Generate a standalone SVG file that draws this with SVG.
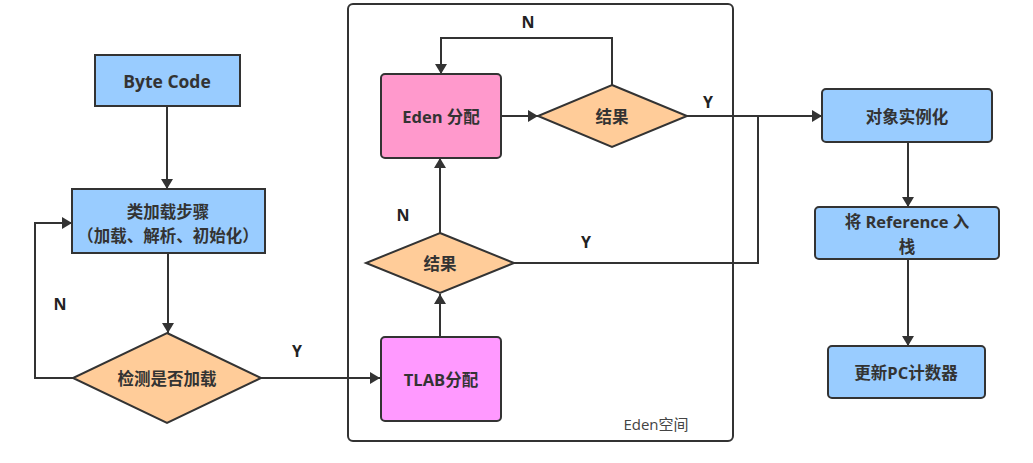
<svg xmlns="http://www.w3.org/2000/svg" width="1033" height="463" viewBox="0 0 1033 463">
<style>
.t{font-family:"Open Sans","Noto Sans CJK SC",sans-serif;font-weight:bold;font-size:16.5px;fill:#333;text-anchor:middle;dominant-baseline:central}
.lbl{font-family:"Open Sans","Noto Sans CJK SC",sans-serif;font-weight:bold;font-size:16px;fill:#222;text-anchor:middle;dominant-baseline:central}
.blue{fill:#99CCFF;stroke:#333;stroke-width:2}
.dia{fill:#FFCC99;stroke:#333;stroke-width:2}
.ln{fill:none;stroke:#333;stroke-width:2}
</style>
<defs>
<marker id="ar" markerWidth="10" markerHeight="12" refX="10" refY="6" orient="auto" markerUnits="userSpaceOnUse" viewBox="0 0 10 12">
<path d="M0,0 L10,6 L0,12 Z" fill="#333"/>
</marker>
</defs>
<rect width="1033" height="463" fill="#fff"/>
<g id="eden-space">
<rect x="348" y="4" width="385" height="437" rx="5" fill="none" stroke="#333" stroke-width="2"/>
<text x="656" y="424" font-family="Open Sans,Noto Sans CJK SC,sans-serif" font-size="15" fill="#444" text-anchor="middle" dominant-baseline="central">Eden空间</text>
</g>
<g id="connectors">
<path class="ln" d="M167,106 L167,189" marker-end="url(#ar)"/>
<path class="ln" d="M168,253 L168,333" marker-end="url(#ar)"/>
<path class="ln" d="M73,378 L35,378 L35,223 L72,223" marker-end="url(#ar)"/>
<path class="ln" d="M261,378 L380,378" marker-end="url(#ar)"/>
<path class="ln" d="M440,337 L440,294" marker-end="url(#ar)"/>
<path class="ln" d="M440,233 L440,158" marker-end="url(#ar)"/>
<path class="ln" d="M501,116 L538,116" marker-end="url(#ar)"/>
<path class="ln" d="M612,85 L612,38 L441,38 L441,74" marker-end="url(#ar)"/>
<path class="ln" d="M687,116 L822,116" marker-end="url(#ar)"/>
<path class="ln" d="M514,263 L758,263 L758,116"/>
<path class="ln" d="M908,142 L908,207" marker-end="url(#ar)"/>
<path class="ln" d="M908,259 L908,346" marker-end="url(#ar)"/>
<text class="lbl" x="60" y="304">N</text>
<text class="lbl" x="297" y="351">Y</text>
<text class="lbl" x="528" y="22">N</text>
<text class="lbl" x="708" y="102">Y</text>
<text class="lbl" x="403" y="215">N</text>
<text class="lbl" x="586" y="242">Y</text>
</g>
<g id="byte-code">
<rect class="blue" x="95" y="55" width="145" height="51"/>
<text class="t" x="167" y="81" style="font-size:17.5px">Byte Code</text>
</g>
<g id="class-load">
<rect class="blue" x="72" y="189" width="193" height="64"/>
<text class="t" x="168" y="211">类加载步骤</text>
<text class="t" x="168" y="235">（加载、解析、初始化）</text>
</g>
<g id="check-loaded">
<polygon class="dia" points="167,333 261,378 167,423 73,378"/>
<text class="t" x="167" y="378">检测是否加载</text>
</g>
<g id="tlab">
<rect x="381" y="337" width="120" height="84" rx="4" fill="#FF99FF" stroke="#333" stroke-width="2"/>
<text class="t" x="441" y="379">TLAB分配</text>
</g>
<g id="result-bottom">
<polygon class="dia" points="440,233 514,263 440,293 366,263"/>
<text class="t" x="440" y="263">结果</text>
</g>
<g id="eden-alloc">
<rect x="381" y="74" width="120" height="84" rx="4" fill="#FF99CC" stroke="#333" stroke-width="2"/>
<text class="t" x="441" y="116">Eden 分配</text>
</g>
<g id="result-top">
<polygon class="dia" points="612,85 687,116 612,147 538,116"/>
<text class="t" x="612" y="116">结果</text>
</g>
<g id="instantiate">
<rect class="blue" x="822" y="89" width="170" height="53" rx="4"/>
<text class="t" x="907" y="116">对象实例化</text>
</g>
<g id="push-ref">
<rect class="blue" x="815" y="207" width="184" height="52" rx="4"/>
<text class="t" x="907" y="221">将 Reference 入</text>
<text class="t" x="907" y="246">栈</text>
</g>
<g id="update-pc">
<rect class="blue" x="828" y="346" width="157" height="52" rx="4"/>
<text class="t" x="906" y="372">更新PC计数器</text>
</g>
</svg>
